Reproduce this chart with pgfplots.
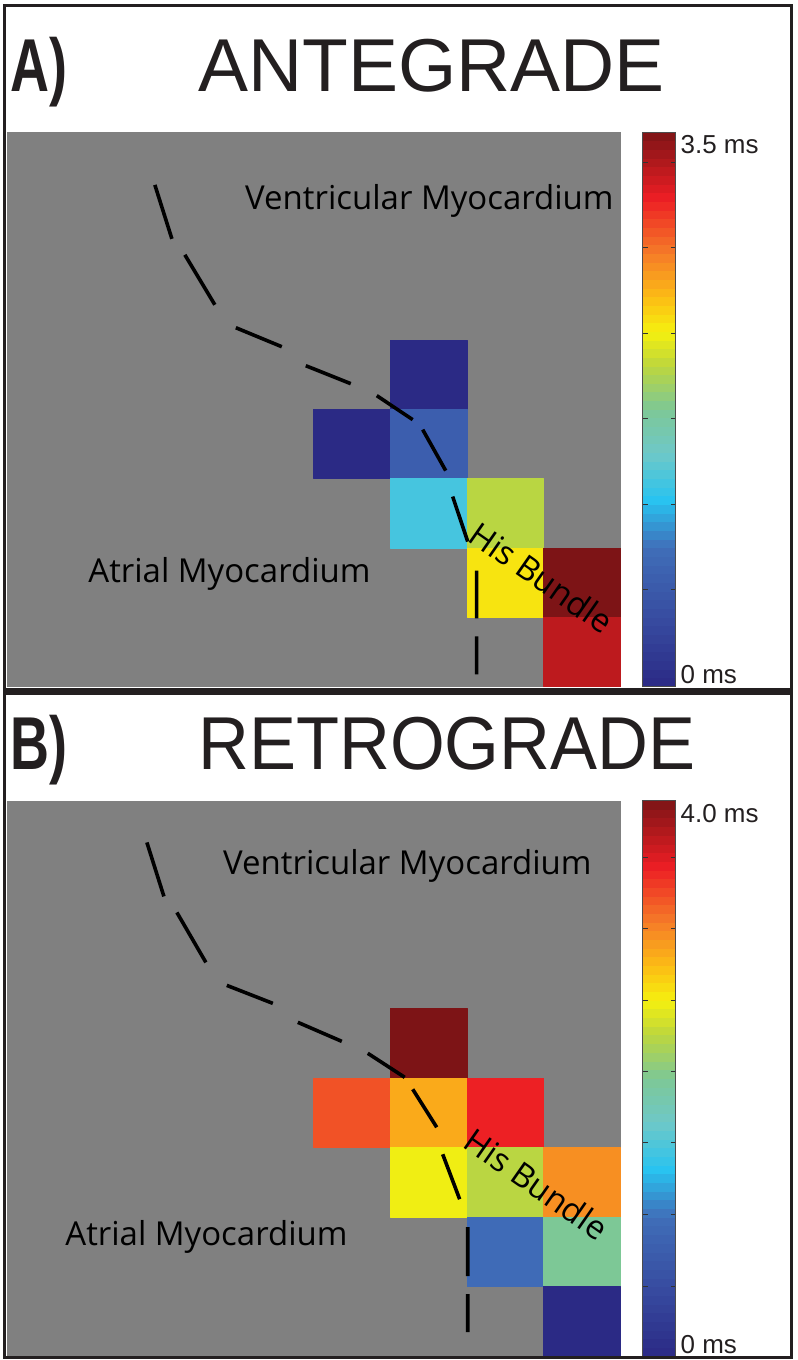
\documentclass[border=0pt]{standalone}
\usepackage{pgfplots}
\pgfplotsset{compat=1.18}
\usepackage{graphicx}
\usepackage{fontspec}
\setmainfont{Liberation Sans}
\newfontfamily\labelfont{Open Sans}
\definecolor{framec}{RGB}{35,31,32}

\pgfplotsset{
  colormap={printjet}{rgb255(0)=(43,42,133) rgb255(24)=(55,75,160) rgb255(50)=(64,110,185) rgb255(67)=(40,195,240) rgb255(84)=(110,200,200) rgb255(100)=(125,200,150) rgb255(116)=(190,215,60) rgb255(128)=(245,240,15) rgb255(140)=(252,190,20) rgb255(156)=(245,125,40) rgb255(176)=(237,30,36) rgb255(200)=(125,20,22)},
  heatpanel/.style={
    anchor=south west, scale only axis, width=307pt,
    xmin=0, xmax=8, ymin=0, ymax=8, y dir=reverse,
    axis background/.style={fill=gray},
    axis line style={draw=none}, ticks=none,
    clip=false,
    colormap name=printjet,
    colorbar, colorbar sampled,
  },
  cbstyle/.style={
    at={(parent axis.north east)}, anchor=north west, xshift=2.5pt,
    scale only axis, width=16.5pt, samples=65,
    tick align=inside, ytick pos=both, yticklabel pos=right,
    major tick length=2.5pt,
    tick style={black!80, line width=0.5pt},
    axis line style={draw=black!70, line width=0.4pt},
    extra y tick style={major tick length=0pt},
    yticklabel style={font=\fontsize{13}{13}\selectfont, text=framec, xshift=-1pt},
  },
}
\newcommand{\regfont}{\labelfont\fontsize{16.5}{16.5}\selectfont}

\begin{document}
\begin{tikzpicture}
% ---------------- Panel A ----------------
\begin{axis}[heatpanel, at={(3.5pt,-343.5pt)}, height=277.5pt,
  point meta min=0, point meta max=3.5,
  colorbar style={cbstyle,
    ytick={0.61,1.15,1.69,2.23,2.77,3.31}, yticklabels={,,,,,},
    extra y ticks={0.075,3.418}, extra y tick labels={0 ms,3.5 ms}}]
\addplot[patch, patch type=rectangle, shader=flat mean, point meta=explicit]
 table[meta=c] {
x y c
5 3 0
6 3 0
6 4 0
5 4 0
4 4 0
5 4 0
5 5 0
4 5 0
5 4 0.67
6 4 0.67
6 5 0.67
5 5 0.67
5 5 1.30
6 5 1.30
6 6 1.30
5 6 1.30
6 5 2.01
7 5 2.01
7 6 2.01
6 6 2.01
6 6 2.29
7 6 2.29
7 7 2.29
6 7 2.29
7 6 3.5
8 6 3.5
8 7 3.5
7 7 3.5
7 7 3.26
8 7 3.26
8 8 3.26
7 8 3.26
};
\addplot[black, line width=1.8pt, unbounded coords=jump] coordinates {
(1.928,0.764)(2.150,1.542) (nan,nan)
(2.319,1.772)(2.710,2.493) (nan,nan)
(2.984,2.824)(3.583,3.098) (nan,nan)
(3.896,3.372)(4.482,3.631) (nan,nan)
(4.821,3.804)(5.290,4.150) (nan,nan)
(5.420,4.294)(5.720,4.885) (nan,nan)
(5.811,5.259)(6.007,5.908) (nan,nan)
(6.124,6.326)(6.124,7.017) (nan,nan)
(6.124,7.277)(6.124,7.824)
};
\node[anchor=base west, font=\regfont, inner sep=0] at (axis cs:3.101,1.124) {Ventricular Myocardium};
\node[anchor=base west, font=\regfont, inner sep=0] at (axis cs:1.056,6.499) {Atrial Myocardium};
\node[rotate=-35, font=\regfont, inner sep=0] at (axis cs:6.971,6.427) {His Bundle};
\end{axis}

% ---------------- Panel B ----------------
\begin{axis}[heatpanel, at={(3.5pt,-678.5pt)}, height=278pt,
  point meta min=0, point meta max=4.0,
  colorbar style={cbstyle,
    ytick={0.50,1.02,1.54,2.05,2.56,3.08,3.59}, yticklabels={,,,,,,},
    extra y ticks={0.086,3.907}, extra y tick labels={0 ms,4.0 ms}}]
\addplot[patch, patch type=rectangle, shader=flat mean, point meta=explicit]
 table[meta=c] {
x y c
5 3 4.0
6 3 4.0
6 4 4.0
5 4 4.0
4 4 3.30
5 4 3.30
5 5 3.30
4 5 3.30
5 4 2.90
6 4 2.90
6 5 2.90
5 5 2.90
6 4 3.51
7 4 3.51
7 5 3.51
6 5 3.51
5 5 2.54
6 5 2.54
6 6 2.54
5 6 2.54
6 5 2.30
7 5 2.30
7 6 2.30
6 6 2.30
7 5 3.03
8 5 3.03
8 6 3.03
7 6 3.03
6 6 0.96
7 6 0.96
7 7 0.96
6 7 0.96
7 6 2.0
8 6 2.0
8 7 2.0
7 7 2.0
7 7 0
8 7 0
8 8 0
7 8 0
};
\addplot[black, line width=1.8pt, unbounded coords=jump] coordinates {
(1.824,0.604)(2.046,1.381) (nan,nan)
(2.215,1.612)(2.593,2.331) (nan,nan)
(2.866,2.662)(3.466,2.921) (nan,nan)
(3.792,3.194)(4.365,3.468) (nan,nan)
(4.704,3.640)(5.186,3.986) (nan,nan)
(5.290,4.158)(5.603,4.705) (nan,nan)
(5.681,5.094)(5.902,5.741) (nan,nan)
(6.007,6.144)(6.007,6.849) (nan,nan)
(6.007,7.108)(6.007,7.655)
};
\node[anchor=base west, font=\regfont, inner sep=0] at (axis cs:2.814,1.065) {Ventricular Myocardium};
\node[anchor=base west, font=\regfont, inner sep=0] at (axis cs:0.756,6.403) {Atrial Myocardium};
\node[rotate=-35, font=\regfont, inner sep=0] at (axis cs:6.906,5.525) {His Bundle};
\end{axis}

% ---------------- Frame and titles ----------------
\begin{scope}[x=0.5pt, y=-0.5pt]
\useasboundingbox (0,0) rectangle (798,1360);
\draw[framec, line width=1.5pt] (5,5) rectangle (792,1358);
\draw[framec, line width=3.5pt] (4,691.5) -- (793,691.5);
\node[anchor=base west, inner sep=0, text=framec, font=\bfseries\fontsize{37.5}{37.5}\selectfont] at (10,92) {\scalebox{0.72}[1]{A)}};
\node[anchor=base west, inner sep=0, text=framec, font=\fontsize{37.5}{37.5}\selectfont] at (198,92) {ANTEGRADE};
\node[anchor=base west, inner sep=0, text=framec, font=\bfseries\fontsize{37.5}{37.5}\selectfont] at (10,770) {\scalebox{0.72}[1]{B)}};
\node[anchor=base west, inner sep=0, text=framec, font=\fontsize{37.5}{37.5}\selectfont] at (198,770) {\scalebox{0.94}[1]{RETROGRADE}};
\end{scope}
\end{tikzpicture}
\end{document}
